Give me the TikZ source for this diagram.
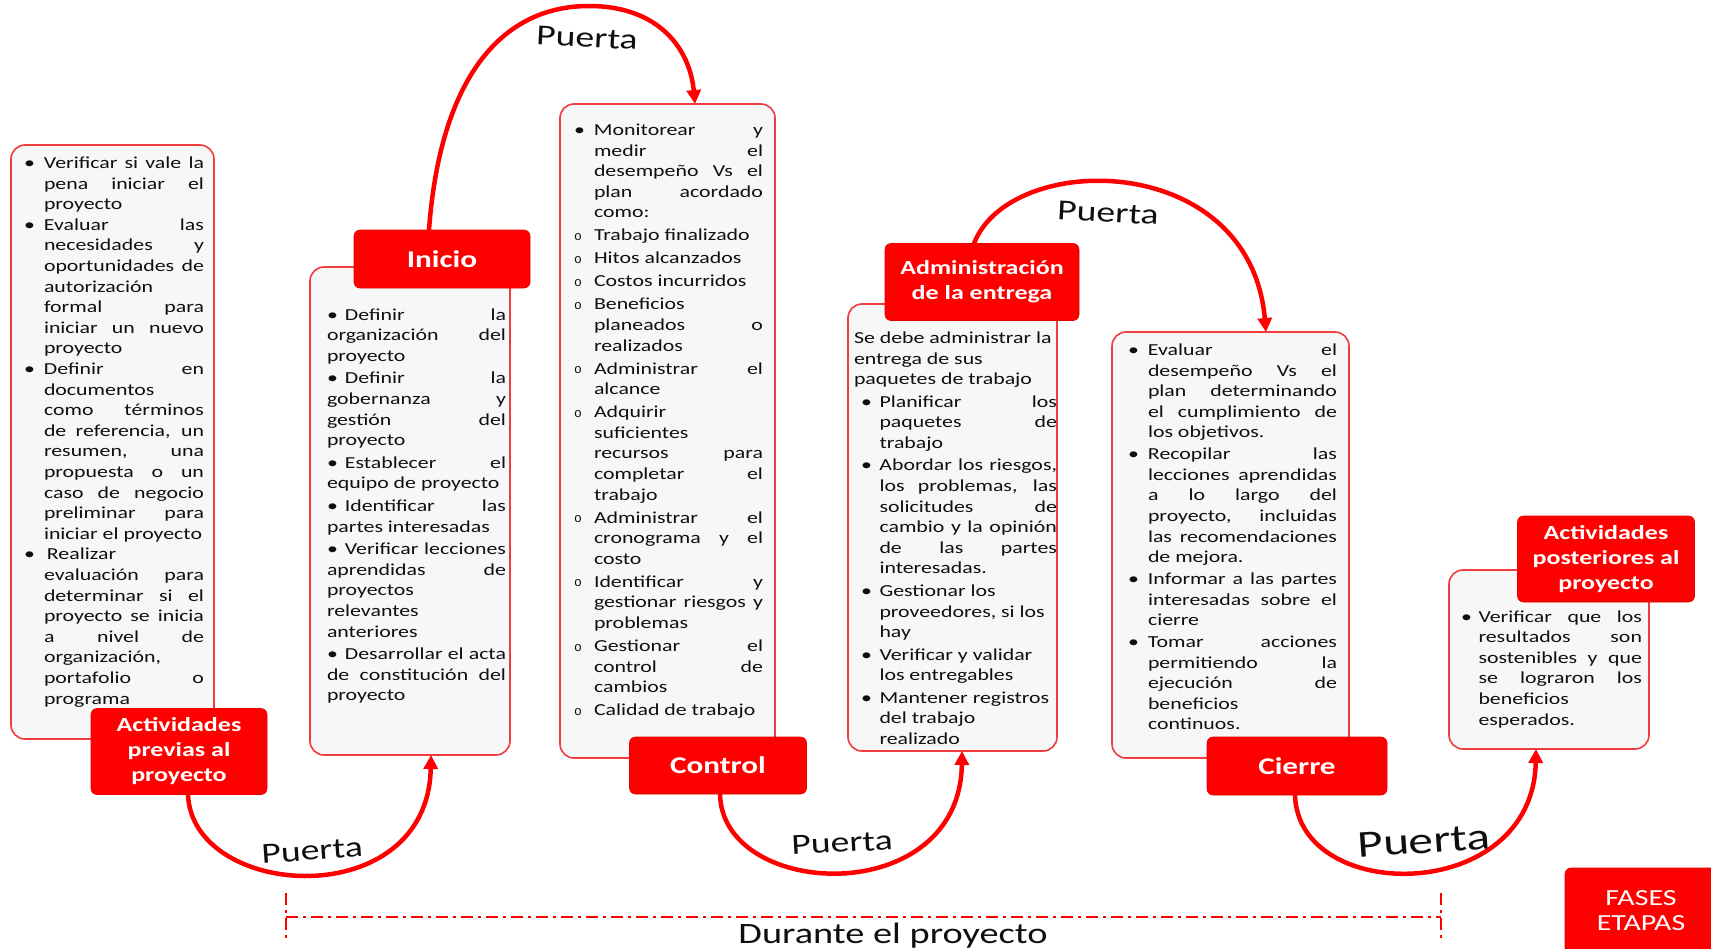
\documentclass[tikz,border=0pt]{standalone}
\usepackage{fontspec}
\setmainfont{Carlito}[FakeStretch=1.3]
\newfontfamily\circfont{Liberation Mono}
\usetikzlibrary{arrows.meta}

\definecolor{gatered}{RGB}{255,0,0}
\definecolor{panelfill}{RGB}{247,247,247}
\definecolor{panelline}{RGB}{240,60,60}
\definecolor{ink}{RGB}{15,15,15}

% line builders: justified line, left line, bullet + justified, bullet + left
\newdimen\ind \newdimen\bo \newdimen\igap
\newcommand\JL[1]{\hbox to\hsize{\hskip\ind\hbox to\dimexpr\hsize-\ind\relax{\spaceskip=\fontdimen2\font plus 1fil\relax#1}}}
\newcommand\EL[1]{\hbox to\hsize{\hskip\ind#1\hfil}}
\newcommand\BJ[2]{\hbox to\hsize{\hbox to\ind{\hskip\bo#1\hss}\hbox to\dimexpr\hsize-\ind\relax{\spaceskip=\fontdimen2\font plus 1fil\relax#2}}}
\newcommand\BE[2]{\hbox to\hsize{\hbox to\ind{\hskip\bo#1\hss}#2\hfil}}
\newcommand\gap{\vskip\igap}
\newcommand\bul{•}
\newcommand\subb{\raisebox{0.5pt}{\circfont\fontsize{13}{13}\selectfont o}}

\begin{document}
\begin{tikzpicture}[x=1pt,y=-1pt,
  panel/.style={draw=panelline, line width=1.6pt, fill=panelfill, rounded corners=14pt, inner sep=0pt, outer sep=0pt},
  tag/.style={fill=gatered, draw=gatered!90!black, line width=0.6pt, rounded corners=6pt, text=white, align=center, inner sep=0pt, outer sep=0pt},
  tagsmall/.style={tag, font=\bfseries\fontsize{20}{25}\selectfont},
  tagbig/.style={tag, font=\bfseries\fontsize{24}{28}\selectfont},
  txt/.style={anchor=base west, inner sep=0pt, outer sep=0pt, text=ink, font=\fontsize{16.8}{20.6}\selectfont},
  gate/.style={draw=gatered, line width=4.5pt, -{Triangle[length=14pt,width=14pt]}},
  gatelabel/.style={text=ink, inner sep=0pt, font=\fontsize{29}{29}\selectfont},
  span/.style={draw=gatered, line width=1.5pt, dash pattern=on 12pt off 5pt on 3pt off 5pt}
]
\useasboundingbox (0,0) rectangle (1711,948);

% ---------- content panels ----------
\node[panel, minimum width=203pt, minimum height=594pt] (p1) at (112.5,442) {};
\node[panel, minimum width=200pt, minimum height=488pt] (p2) at (410,511) {};
\node[panel, minimum width=215pt, minimum height=654pt] (p3) at (667.5,431) {};
\node[panel, minimum width=209pt, minimum height=447pt] (p4) at (952.5,527.5) {};
\node[panel, minimum width=237pt, minimum height=426pt] (p5) at (1230.5,545) {};
\node[panel, minimum width=200pt, minimum height=179pt] (p6) at (1549,659.5) {};

% ---------- panel texts ----------
\node[txt] (t1) at (24,168.5) {\vtop{\hsize=180pt \ind=20pt
\BJ{\bul}{Verificar si vale la}
\JL{pena iniciar el}
\EL{proyecto}
\BJ{\bul}{Evaluar las}
\JL{necesidades y}
\JL{oportunidades de}
\EL{autorización}
\JL{formal para}
\JL{iniciar un nuevo}
\EL{proyecto}
\BJ{\bul}{Definir en}
\EL{documentos}
\JL{como términos}
\JL{de referencia, un}
\JL{resumen, una}
\JL{propuesta o un}
\JL{caso de negocio}
\JL{preliminar para}
\EL{iniciar el proyecto}
\BE{\bul}{\kern3pt Realizar}
\JL{evaluación para}
\JL{determinar si el}
\JL{proyecto se inicia}
\JL{a nivel de}
\EL{organización,}
\JL{portafolio o}
\EL{programa}}};

\node[txt] (t2) at (327,320) {\vtop{\hsize=179pt \ind=0pt \igap=2pt
\JL{\bul\kern7pt Definir la}
\JL{organización del}
\EL{proyecto}\gap
\JL{\bul\kern7pt Definir la}
\JL{gobernanza y}
\JL{gestión del}
\EL{proyecto}\gap
\JL{\bul\kern7pt Establecer el}
\EL{equipo de proyecto}\gap
\JL{\bul\kern7pt Identificar las}
\EL{partes interesadas}\gap
\JL{\bul\kern7pt Verificar lecciones}
\JL{aprendidas de}
\EL{proyectos}
\EL{relevantes}
\EL{anteriores}\gap
\JL{\bul\kern7pt Desarrollar el acta}
\JL{de constitución del}
\EL{proyecto}}};

\node[txt] (t3) at (574,135.5) {\vtop{\hsize=189pt \ind=20pt \igap=2.4pt
\BJ{\bul}{Monitorear y}
\JL{medir el}
\JL{desempeño Vs el}
\JL{plan acordado}
\EL{como:}\gap
\BE{\subb}{Trabajo finalizado}\gap
\BE{\subb}{Hitos alcanzados}\gap
\BE{\subb}{Costos incurridos}\gap
\BE{\subb}{Beneficios}
\JL{planeados o}
\EL{realizados}\gap
\BJ{\subb}{Administrar el}
\EL{alcance}\gap
\BE{\subb}{Adquirir}
\EL{suficientes}
\JL{recursos para}
\JL{completar el}
\EL{trabajo}\gap
\BJ{\subb}{Administrar el}
\JL{cronograma y el}
\EL{costo}\gap
\BJ{\subb}{Identificar y}
\JL{gestionar riesgos y}
\EL{problemas}\gap
\BJ{\subb}{Gestionar el}
\JL{control de}
\EL{cambios}\gap
\BE{\subb}{Calidad de trabajo}}};

\node[txt] (t4) at (854,343.5) {\vtop{\hsize=203pt \ind=0pt \bo=7pt \igap=1.9pt
\EL{Se debe administrar la}
\EL{entrega de sus}
\EL{paquetes de trabajo}\gap
\ind=25.5pt
\BJ{\bul}{Planificar los}
\JL{paquetes de}
\EL{trabajo}\gap
\BJ{\bul}{Abordar los riesgos,}
\JL{los problemas, las}
\JL{solicitudes de}
\JL{cambio y la opinión}
\JL{de las partes}
\EL{interesadas.}\gap
\BE{\bul}{Gestionar los}
\EL{proveedores, si los}
\EL{hay}\gap
\BE{\bul}{Verificar y validar}
\EL{los entregables}\gap
\BE{\bul}{Mantener registros}
\EL{del trabajo}
\EL{realizado}}};

\node[txt] (t5) at (1128,355.5) {\vtop{\hsize=209pt \ind=20pt \igap=1.2pt
\BJ{\bul}{Evaluar el}
\JL{desempeño Vs el}
\JL{plan determinando}
\JL{el cumplimiento de}
\EL{los objetivos.}\gap
\BJ{\bul}{Recopilar las}
\JL{lecciones aprendidas}
\JL{a lo largo del}
\JL{proyecto, incluidas}
\JL{las recomendaciones}
\EL{de mejora.}\gap
\BJ{\bul}{Informar a las partes}
\JL{interesadas sobre el}
\EL{cierre}\gap
\BJ{\bul}{Tomar acciones}
\JL{permitiendo la}
\JL{ejecución de}
\EL{beneficios}
\EL{continuos.}}};

\node[txt] (t6) at (1464,622) {\vtop{\hsize=178pt \ind=14.5pt \bo=-3pt
\BJ{\bul}{Verificar que los}
\JL{resultados son}
\JL{sostenibles y que}
\JL{se lograron los}
\EL{beneficios}
\EL{esperados.}}};

% ---------- phase tags ----------
\node[tagsmall, minimum width=176pt, minimum height=86pt] (l1) at (179,751.5) {Actividades\\previas al\\proyecto};
\node[tagbig, minimum width=176pt, minimum height=58pt] (l2) at (442,259) {Inicio};
\node[tagbig, minimum width=177pt, minimum height=57pt] (l3) at (718,765.5) {Control};
\node[tagsmall, minimum width=194pt, minimum height=77pt] (l4) at (982,282) {Administración\\de la entrega};
\node[tagbig, minimum width=180pt, minimum height=58pt] (l5) at (1297,766) {Cierre};
\node[tagsmall, minimum width=177pt, minimum height=86pt] (l6) at (1606,559) {Actividades\\posteriores al\\proyecto};
\node[tag, font=\fontsize{23}{25}\selectfont, minimum width=152pt, minimum height=86pt] (fases) at (1641,911) {FASES\\ETAPAS};

% ---------- gates between phases ----------
\draw[gate] ([xshift=9pt]l1.south) .. controls (192,900) and (428,915) .. ([xshift=21pt]p2.south);
\draw[gate] ([xshift=-13pt]l2.north) .. controls (440,80) and (500,6) .. (589,6)
            .. controls (660,6) and (690,50) .. ([xshift=27.5pt]p3.north);
\draw[gate] ([xshift=2pt]l3.south) .. controls (722,900) and (960,910) .. ([xshift=9.5pt]p4.south);
\draw[gate] ([xshift=-8pt]l4.north) .. controls (1010,150) and (1250,150) .. ([xshift=35.5pt]p5.north);
\draw[gate] ([xshift=-2pt]l5.south) .. controls (1298,905) and (1533,905) .. ([xshift=-13pt]p6.south);

\node[gatelabel, rotate=4] (g1) at (312,851) {Puerta};
\node[gatelabel, rotate=-3] (g2) at (587,38) {Puerta};
\node[gatelabel, rotate=3] (g3) at (842,843) {Puerta};
\node[gatelabel, rotate=-3] (g4) at (1108,213) {Puerta};
\node[gatelabel, rotate=4, font=\fontsize{38}{38}\selectfont] (g5) at (1424,841) {Puerta};

% ---------- project span ----------
\coordinate (sl) at (286,917);
\coordinate (sr) at (1441,917);
\coordinate (slt) at (286,893);
\coordinate (slb) at (286,943);
\coordinate (srt) at (1441,893);
\coordinate (srb) at (1441,943);
\draw[span] (sl) -- (sr);
\draw[span] (slt) -- (slb);
\draw[span] (srt) -- (srb);
\node[text=ink, inner sep=0pt, font=\fontsize{29.5}{30}\selectfont] (dur) at (893,936) {Durante el proyecto};
\end{tikzpicture}
\end{document}
